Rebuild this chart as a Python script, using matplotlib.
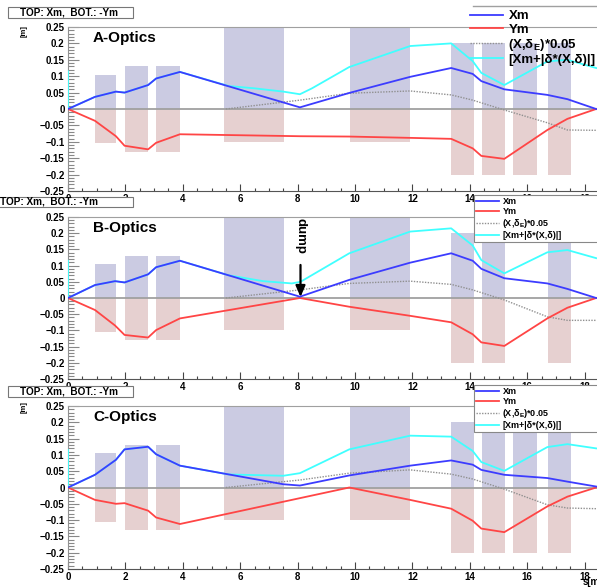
import matplotlib.pyplot as plt
from matplotlib.lines import Line2D
from matplotlib.patches import Rectangle
from matplotlib.ticker import MultipleLocator

plt.rcParams['font.family'] = ['Liberation Sans', 'DejaVu Sans']
plt.rcParams['font.weight'] = 'bold'
plt.rcParams['mathtext.fontset'] = 'custom'
plt.rcParams['mathtext.rm'] = 'Liberation Sans:bold'
plt.rcParams['mathtext.it'] = 'Liberation Sans:bold'
plt.rcParams['mathtext.bf'] = 'Liberation Sans:bold'

# element apertures (s from, s to, +x half size, -y half size)
bar_lo = [0.94, 1.97, 3.07, 5.42, 9.82, 13.33, 14.43, 15.52, 16.73]
bar_hi = [1.67, 2.79, 3.90, 7.53, 11.93, 14.15, 15.22, 16.33, 17.53]
bar_up = [0.105, 0.13, 0.13, 0.25, 0.25, 0.2, 0.2, 0.2, 0.2]
bar_dn = [0.105, 0.13, 0.13, 0.1, 0.1, 0.2, 0.2, 0.2, 0.2]
bars_used_A = [0, 1, 2, 3, 4, 5, 6, 7, 8]
bars_used_B = [0, 1, 2, 3, 4, 5, 6, 8]
bars_used_C = [0, 1, 2, 3, 4, 5, 6, 7, 8]

# A-Optics
xm_A_s = [0, 0.94, 1.67, 1.97, 2.79, 3.07, 3.9, 8.08, 9.8, 11.92, 13.35, 14.1, 14.4, 15.2, 16.7, 17.4, 18.4]
xm_A = [0, 0.037, 0.053, 0.05, 0.073, 0.093, 0.113, 0.005, 0.049, 0.098, 0.125, 0.107, 0.085, 0.06, 0.043, 0.03, 0.0]
ym_A_s = [0, 0.94, 1.67, 1.97, 2.79, 3.07, 3.9, 8.08, 9.8, 11.92, 13.35, 14.1, 14.4, 15.2, 16.7, 17.4, 18.4]
ym_A = [0, 0.036, 0.083, 0.112, 0.123, 0.103, 0.077, 0.083, 0.084, 0.088, 0.091, 0.12, 0.143, 0.152, 0.064, 0.03, 0.0]
env_A_s = [0, 0, 0.94, 1.67, 1.97, 2.79, 3.07, 3.9, 5.6, 6.5, 7.5, 8.08, 8.5, 9.8, 11.92, 13.35, 14.1, 14.4, 15.2, 16.7, 17.4, 18.4]
env_A = [0.115, 0, 0.037, 0.053, 0.05, 0.073, 0.093, 0.113, 0.07, 0.063, 0.053, 0.045, 0.063, 0.128, 0.192, 0.2, 0.146, 0.11, 0.073, 0.145, 0.15, 0.125]
disp_A_s = [5.5, 8.08, 9.8, 11.92, 13.35, 14.1, 15.2, 16.7, 17.4, 18.4]
disp_A = [0, 0.027, 0.048, 0.055, 0.043, 0.027, -0.003, -0.042, -0.064, -0.065]

# B-Optics
xm_B_s = [0, 0.94, 1.64, 1.97, 2.79, 3.07, 3.9, 8.08, 9.8, 11.92, 13.35, 14.1, 14.4, 15.2, 16.7, 17.4, 18.4]
xm_B = [0, 0.04, 0.052, 0.048, 0.073, 0.095, 0.115, 0.004, 0.056, 0.109, 0.138, 0.115, 0.09, 0.061, 0.045, 0.028, 0.0]
ym_B_s = [0, 0.94, 1.64, 1.97, 2.79, 3.07, 3.9, 8.08, 9.8, 11.92, 13.35, 14.1, 14.4, 15.2, 16.7, 17.4, 18.4]
ym_B = [0, 0.037, 0.085, 0.114, 0.122, 0.099, 0.063, 0.0, 0.027, 0.055, 0.075, 0.112, 0.137, 0.148, 0.063, 0.03, 0.0]
env_B_s = [0, 0, 0.94, 1.64, 1.97, 2.79, 3.07, 3.9, 5.6, 6.8, 7.8, 8.1, 9.8, 11.92, 13.35, 14.1, 14.4, 15.2, 16.7, 17.4, 18.4]
env_B = [0.115, 0, 0.04, 0.052, 0.048, 0.073, 0.095, 0.115, 0.07, 0.052, 0.045, 0.05, 0.138, 0.205, 0.215, 0.162, 0.117, 0.076, 0.141, 0.148, 0.123]
disp_B_s = [5.5, 8.08, 9.8, 11.92, 13.35, 14.1, 15.2, 16.7, 17.4, 18.4]
disp_B = [0, 0.025, 0.045, 0.052, 0.042, 0.025, -0.006, -0.058, -0.069, -0.069]

# C-Optics
xm_C_s = [0, 0.94, 1.67, 1.97, 2.79, 3.07, 3.9, 7.5, 8.08, 9.8, 11.92, 13.35, 14.1, 14.4, 15.2, 16.7, 17.4, 18.4]
xm_C = [0, 0.039, 0.085, 0.117, 0.125, 0.102, 0.067, 0.01, 0.006, 0.037, 0.067, 0.083, 0.07, 0.054, 0.039, 0.029, 0.018, 0.003]
ym_C_s = [0, 0.94, 1.67, 1.97, 2.79, 3.07, 3.9, 9.8, 11.92, 13.35, 14.1, 14.4, 15.2, 16.7, 17.4, 18.4]
ym_C = [0, 0.038, 0.05, 0.048, 0.071, 0.092, 0.112, 0.0, 0.038, 0.065, 0.102, 0.126, 0.137, 0.058, 0.028, 0.0]
env_C_s = [0, 0, 0.94, 1.67, 1.97, 2.79, 3.07, 3.9, 5.6, 7.5, 8.08, 9.8, 11.92, 13.35, 14.1, 14.4, 15.2, 16.7, 17.4, 18.4]
env_C = [0.115, 0, 0.039, 0.085, 0.117, 0.125, 0.102, 0.067, 0.04, 0.036, 0.044, 0.117, 0.159, 0.156, 0.112, 0.078, 0.051, 0.124, 0.133, 0.12]
disp_C_s = [5.5, 8.08, 9.8, 11.92, 13.35, 14.1, 15.2, 16.7, 17.4, 18.4]
disp_C = [0, 0.023, 0.044, 0.054, 0.041, 0.026, -0.005, -0.053, -0.063, -0.065]

labels = ['Xm', 'Ym', '(X,δ$_{E}$)*0.05', '[Xm+|δ*(X,δ)|]']

W, H = 597, 588
fig = plt.figure(figsize=(W / 100, H / 100), dpi=100)

panels = [
    ('A-Optics', 27, 191, bars_used_A, xm_A_s, xm_A, ym_A_s, ym_A, env_A_s, env_A, disp_A_s, disp_A),
    ('B-Optics', 217, 379, bars_used_B, xm_B_s, xm_B, ym_B_s, ym_B, env_B_s, env_B, disp_B_s, disp_B),
    ('C-Optics', 406, 569, bars_used_C, xm_C_s, xm_C, ym_C_s, ym_C, env_C_s, env_C, disp_C_s, disp_C),
]

axes = []
for (name, top, bot, used, xs, xm, ys, ym, es, env, ds, disp) in panels:
    ax = fig.add_axes([68 / W, (H - bot) / H, (W - 68) / W, (bot - top) / H])
    axes.append(ax)
    lo = [bar_lo[i] for i in used]
    wd = [bar_hi[i] - bar_lo[i] for i in used]
    ax.bar(lo, [bar_up[i] for i in used], width=wd, align='edge', color='#cbcbe2', zorder=1)
    ax.bar(lo, [-bar_dn[i] for i in used], width=wd, align='edge', color='#e6d0d0', zorder=1)
    ax.axhline(0, color='#a0a0a0', lw=1.3, zorder=2)
    ax.plot(ds, disp, color='#909090', lw=1.0, ls=(0, (1, 1)), zorder=3)
    ax.plot(es, env, color='#40ffff', lw=1.3, zorder=4)
    ax.plot(ys, [-v for v in ym], color='#ff4545', lw=1.3, zorder=5)
    ax.plot(xs, xm, color='#3c3cff', lw=1.3, zorder=6)

    ax.set_xlim(0, 18.43)
    ax.set_ylim(-0.25, 0.25)
    ax.yaxis.set_minor_locator(MultipleLocator(0.01))
    ax.xaxis.set_major_locator(MultipleLocator(2))
    ax.xaxis.set_minor_locator(MultipleLocator(0.5))
    ax.set_yticks([-0.25, -0.2, -0.15, -0.1, -0.05, 0, 0.05, 0.1, 0.15, 0.2, 0.25])
    ax.set_yticklabels(['\u22120.25', '\u22120.2', '\u22120.15', '\u22120.1', '\u22120.05', '0',
                        '0.05', '0.1', '0.15', '0.2', '0.25'])
    ax.tick_params(axis='y', which='major', direction='in', length=8, width=0.8,
                   color='#888888', labelsize=7, pad=2.5)
    ax.tick_params(axis='y', which='minor', direction='in', length=4.5, width=0.8, color='#888888')
    ax.tick_params(axis='x', which='major', direction='in', length=5, width=0.8,
                   color='#444444', labelsize=7, pad=2)
    ax.tick_params(axis='x', which='minor', direction='in', length=2.5, width=0.8, color='#444444')
    ax.spines['right'].set_visible(False)
    ax.spines['top'].set_color('#a0a0a0')
    ax.spines['left'].set_color('#909090')
    ax.spines['bottom'].set_color('#555555')
    ax.patch.set_alpha(0)
    ax.text(0.87, 0.217, name, fontsize=11, fontweight='bold', ha='left', va='center', zorder=10)

handles = [Line2D([], [], color='#3c3cff', lw=1.3),
           Line2D([], [], color='#ff4545', lw=1.3),
           Line2D([], [], color='#909090', lw=1.0, ls=(0, (1, 1))),
           Line2D([], [], color='#40ffff', lw=1.3)]

# legend A: no frame, only a top rule
leg = axes[0].legend(handles, labels, loc='upper left', bbox_to_anchor=(461 / W, 1 - 1 / H),
                     bbox_transform=fig.transFigure, frameon=False, fontsize=9.5,
                     handlelength=2.5, handletextpad=0.4, labelspacing=0.08, borderpad=0.2)
leg.set_zorder(20)
fig.add_artist(Line2D([473 / W, 1], [1 - 6 / H, 1 - 6 / H], color='#a0a0a0', lw=1.0))

for ax, top in [(axes[1], 195), (axes[2], 385)]:
    lg = ax.legend(handles, labels, loc='upper left', mode='expand',
                   bbox_to_anchor=(474 / W, 1 - top / H, (W - 474) / W + 0.03, 0),
                   bbox_transform=fig.transFigure, frameon=True, fontsize=6.5, fancybox=False,
                   handlelength=2.5, handletextpad=0.4, labelspacing=0.1, borderpad=0.25,
                   borderaxespad=0, framealpha=1, edgecolor='#888888')
    lg.get_frame().set_linewidth(0.8)
    lg.set_zorder(20)

# title boxes
for (x0, y0, y1) in [(8, 7, 18), (-12, 197, 207), (8, 386, 397)]:
    fig.add_artist(Rectangle((x0 / W, 1 - y1 / H), (133 - x0) / W, (y1 - y0) / H,
                             transform=fig.transFigure, facecolor='white',
                             edgecolor='#777777', lw=0.8, zorder=30))
    fig.text((x0 + 12) / W, 1 - (y0 + y1) / 2 / H, 'TOP: Xm,  BOT.: -Ym', fontsize=7.2,
             fontweight='bold', ha='left', va='center', zorder=31)

# units
fig.text(24.5 / W, 1 - 31.5 / H, '[m]', fontsize=5.5, rotation=90, ha='center', va='center')
fig.text(24.5 / W, 1 - 407.5 / H, '[m]', fontsize=5.5, rotation=90, ha='center', va='center')
fig.text(583 / W, 1 - 582 / H, 's[m]', fontsize=7, fontweight='bold', ha='left', va='center')

# dump marker in B
axes[1].annotate('dump', xy=(8.1, 0.003), xytext=(8.1, 0.247), rotation=-90,
                 ha='center', va='top', fontsize=9.5, fontweight='bold', zorder=15,
                 arrowprops=dict(arrowstyle='-|>,head_length=0.7,head_width=0.3', color='black',
                                 lw=1.6, shrinkA=6, shrinkB=0))

fig.savefig('out.png', dpi=100)
